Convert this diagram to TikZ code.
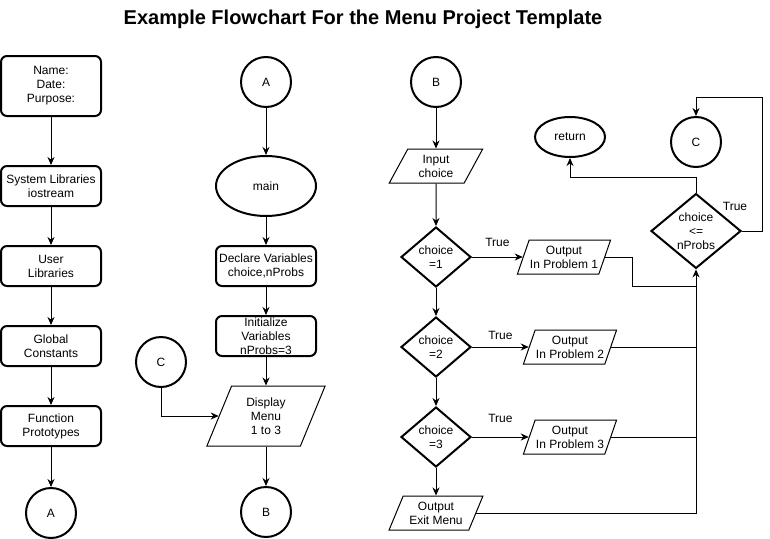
\documentclass[tikz,border=0pt]{standalone}
\usepackage{fontspec}
\setmainfont{Liberation Sans}
\usetikzlibrary{shapes.geometric,arrows.meta}

\begin{document}
\begin{tikzpicture}[x=1pt, y=-1pt, line width=1pt, >={Stealth[length=8pt,width=7pt]},
  font=\fontsize{12}{14}\selectfont,
  every node/.style={align=center, inner sep=0pt},
  box/.style={draw, line width=2pt, rounded corners=6pt, minimum width=100pt, minimum height=40pt},
  conn/.style={draw, circle, line width=2pt, minimum size=50pt},
  term/.style={draw, ellipse, line width=2pt},
  io/.style={draw, trapezium, trapezium left angle=63, trapezium right angle=117,
    trapezium stretches=true, minimum width=94pt, minimum height=34pt},
  test/.style={draw, diamond, line width=2pt, minimum width=70pt, minimum height=60pt},
  yes/.style={midway, above=#1}]
  \useasboundingbox (0,0) rectangle (770,538);

  \node [font=\bfseries\fontsize{20}{24}\selectfont, anchor=base] (title) at (363,24)
    {Example Flowchart For the Menu Project Template};

  % header column
  \node [box, minimum height=60pt] (info) at (51,86) {Name:\\Date:\\Purpose:};
  \node [box] (syslib)  at (51,186) {System Libraries\\iostream};
  \node [box] (userlib) at (51,266) {User\\Libraries};
  \node [box] (consts)  at (51,346) {Global\\Constants};
  \node [box] (protos)  at (51,426) {Function\\Prototypes};
  \node [conn] (a1) at (51,513) {A};

  % main column
  \node [conn] (a2) at (266,82) {A};
  \node [term, minimum width=100pt, minimum height=60pt] (main) at (266,186) {main};
  \node [box] (declare) at (266,266) {Declare Variables\\choice,nProbs};
  \node [box] (init)    at (266,336) {Initialize\\Variables\\nProbs=3};
  \node [io, trapezium left angle=69, trapezium right angle=111,
    minimum width=119pt, minimum height=60pt] (display) at (266,416) {Display\\Menu\\1 to 3};
  \node [conn] (b1) at (266,512) {B};
  \node [conn] (c1) at (161,362) {C};

  % menu column
  \node [conn] (b2) at (436,82) {B};
  \node [io]   (input) at (436,166) {Input\\choice};
  \node [test] (dec1)  at (436,257) {choice\\=1};
  \node [test] (dec2)  at (436,347) {choice\\=2};
  \node [test] (dec3)  at (436,437) {choice\\=3};
  \node [io]   (exit)  at (436,513) {Output\\Exit Menu};
  \node [io]   (out1)  at (564,257) {Output\\In Problem 1};
  \node [io]   (out2)  at (570,347) {Output\\In Problem 2};
  \node [io]   (out3)  at (570,437) {Output\\In Problem 3};
  \node [term, minimum width=70pt, minimum height=40pt] (return) at (570,137) {return};
  \node [test, minimum width=90pt, minimum height=70pt] (loop) at (696,231) {choice\\<=\\nProbs};
  \node [conn] (c2) at (696,142) {C};

  \coordinate (jog)  at (632,286);
  \coordinate (up)   at (696,177);
  \coordinate (back) at (762,97);

  \draw [->] (info) -- (syslib);
  \draw [->] (syslib) -- (userlib);
  \draw [->] (userlib) -- (consts);
  \draw [->] (consts) -- (protos);
  \draw [->] (protos) -- (a1);

  \draw [->] (a2) -- (main);
  \draw [->] (main) -- (declare);
  \draw [->] (declare) -- (init);
  \draw [->] (init) -- (display);
  \draw [->] (display) -- (b1);
  \draw [->] (c1) |- (display);

  \draw [->] (b2) -- (input);
  \draw [->] (input) -- (dec1);
  \draw [->] (dec1) -- (dec2);
  \draw [->] (dec2) -- (dec3);
  \draw [->] (dec3) -- (exit);
  \draw [->] (dec1) -- node [yes=10pt] {True} (out1);
  \draw [->] (dec2) -- node [yes=7pt] {True} (out2);
  \draw [->] (dec3) -- node [yes=14pt] {True} (out3);

  \draw (out1) -| (jog) -- (jog -| loop);
  \draw (out2) -- (out2 -| loop);
  \draw (out3) -- (out3 -| loop);
  \draw [->] (exit) -| (loop);
  \draw [->] (loop) -- (up) -| (return);
  \draw [->] (loop.east) node [xshift=-7pt, yshift=25pt] {True} -| (back) -| (c2);
\end{tikzpicture}
\end{document}
